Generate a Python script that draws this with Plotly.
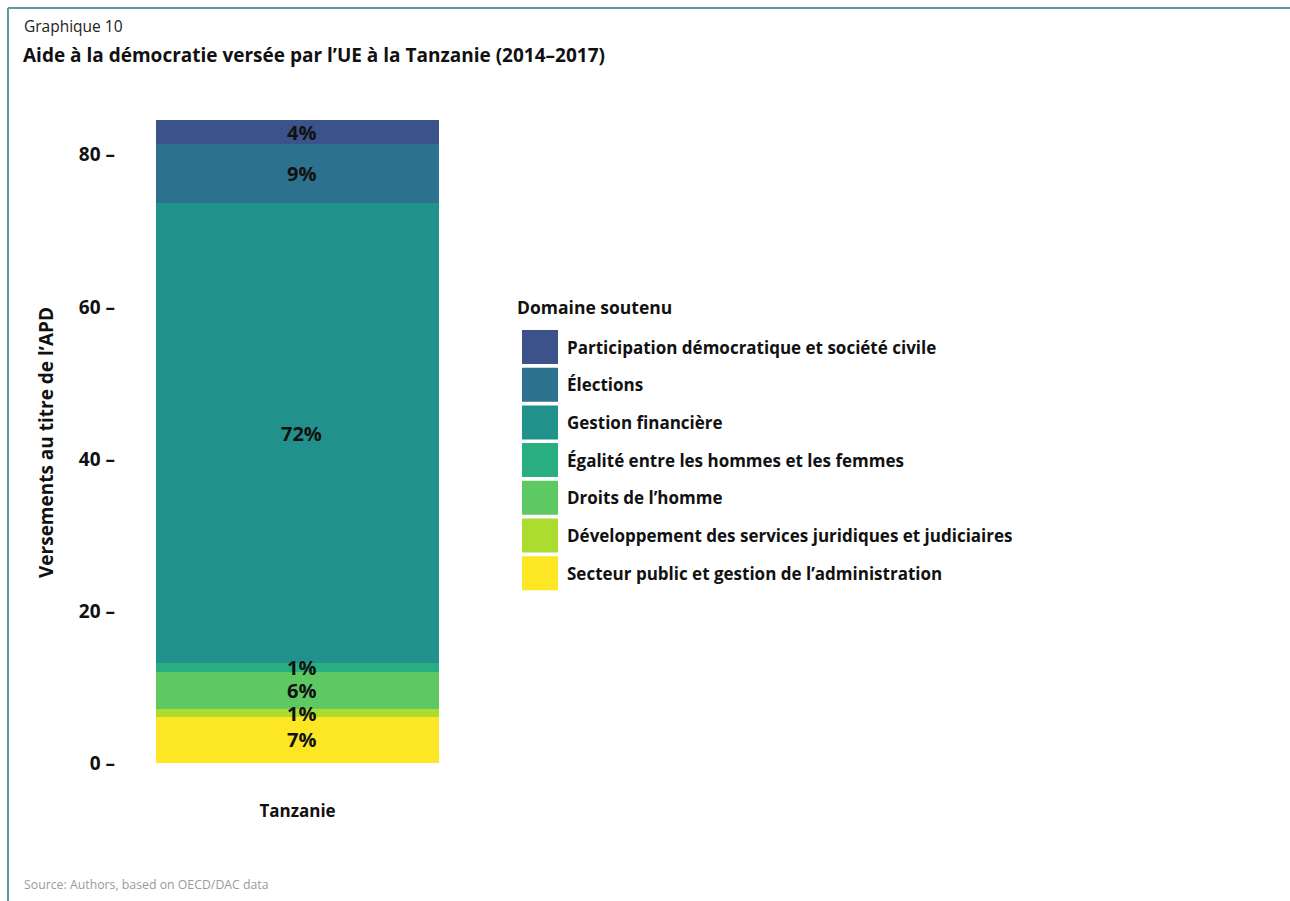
import plotly.graph_objects as go

# ---- data -------------------------------------------------------------
categories = ["Tanzanie"]
domains = [
    "Participation démocratique et société civile",
    "Élections",
    "Gestion financière",
    "Égalité entre les hommes et les femmes",
    "Droits de l’homme",
    "Développement des services juridiques et judiciaires",
    "Secteur public et gestion de l’administration",
]
values = [3.2, 7.7, 60.6, 1.15, 4.9, 0.95, 6.1]  # versements APD, en millions
colors = ["#3b528b", "#2c728e", "#21918c", "#28ae80", "#5ec962", "#addc30", "#fde725"]
y_ticks = [0, 20, 40, 60, 80]
y_tick_text = [f"{v} –" for v in y_ticks]

title_small = "Graphique 10"
title_main = "Aide à la démocratie versée par l’UE à la Tanzanie (2014–2017)"
y_title = "Versements au titre de l’APD"
legend_title = "Domaine soutenu"
source = "Source: Authors, based on OECD/DAC data"

# ---- page geometry ----------------------------------------------------
W, H = 1290, 901
ML, MR, MT, MB = 156, 851, 94, 138
PW = W - ML - MR
PH = H - MT - MB
FONT = "Open Sans"
FRAME = "#5e9a9e"


def px_x(x):
    return (x - ML) / PW


def px_y(y):
    return (H - MB - y) / PH


fig = go.Figure()

# stacked from the bottom segment upward
for name, val, col in reversed(list(zip(domains, values, colors))):
    fig.add_trace(go.Bar(
        x=categories, y=[val], name=name,
        marker=dict(color=col, line=dict(width=0)),
        width=1, showlegend=False, hoverinfo="name+y",
    ))

# share labels at the middle of each segment
total = sum(values)
annotations = []
base = 0.0
for name, val in reversed(list(zip(domains, values))):
    mid = base + val / 2
    base += val
    annotations.append(dict(
        x=categories[0], y=mid, xref="x", yref="y",
        text=f"{round(val / total * 100)}%", showarrow=False, xshift=4,
        font=dict(family=FONT, size=20, color="#111", weight="bold"),
    ))

# titles and source
annotations += [
    dict(x=px_x(22), y=px_y(26), xref="paper", yref="paper", text=title_small,
         showarrow=False, xanchor="left", yanchor="middle",
         font=dict(family=FONT, size=15.5, color="#222")),
    dict(x=px_x(21), y=px_y(55), xref="paper", yref="paper", text=title_main,
         showarrow=False, xanchor="left", yanchor="middle",
         font=dict(family=FONT, size=19, color="#111", weight="bold")),
    dict(x=px_x(46), y=px_y(443), xref="paper", yref="paper", text=y_title,
         showarrow=False, textangle=-90, xanchor="center", yanchor="middle",
         font=dict(family=FONT, size=19, color="#111", weight="bold")),
    dict(x=px_x(22), y=px_y(884), xref="paper", yref="paper", text=source,
         showarrow=False, xanchor="left", yanchor="middle",
         font=dict(family=FONT, size=12.3, color="#9a9a9a")),
    dict(x=px_x(515), y=px_y(307), xref="paper", yref="paper", text=legend_title,
         showarrow=False, xanchor="left", yanchor="middle",
         font=dict(family=FONT, size=17.5, color="#111", weight="bold")),
]

# legend built from swatches and labels
shapes = []
step = 37.7
for i, (name, col) in enumerate(zip(domains, colors)):
    top = 330 + i * step
    bot = top + 34
    shapes.append(dict(type="rect", xref="paper", yref="paper",
                       x0=px_x(522), x1=px_x(558), y0=px_y(bot), y1=px_y(top),
                       fillcolor=col, line=dict(width=0)))
    annotations.append(dict(
        x=px_x(565), y=px_y((top + bot) / 2), xref="paper", yref="paper",
        text=name, showarrow=False, xanchor="left", yanchor="middle",
        font=dict(family=FONT, size=17, color="#111", weight="bold"),
    ))

# frame lines (left and top)
shapes += [
    dict(type="line", xref="paper", yref="paper", x0=px_x(8), x1=px_x(8),
         y0=px_y(8), y1=px_y(H + 5), line=dict(color=FRAME, width=2)),
    dict(type="line", xref="paper", yref="paper", x0=px_x(8), x1=px_x(W + 5),
         y0=px_y(8), y1=px_y(8), line=dict(color=FRAME, width=2)),
]

fig.update_layout(
    width=W, height=H,
    margin=dict(l=ML, r=MR, t=MT, b=MB, pad=0),
    barmode="stack", bargap=0,
    paper_bgcolor="white", plot_bgcolor="white",
    font=dict(family=FONT, color="#111"),
    showlegend=False,
    annotations=annotations,
    shapes=shapes,
    xaxis=dict(range=[-0.5, 0.5], showgrid=False, zeroline=False, showline=False,
               ticks="", ticklabelstandoff=36,
               tickfont=dict(family=FONT, size=17, color="#111", weight="bold")),
    yaxis=dict(range=[0, 88], tickmode="array", tickvals=y_ticks, ticktext=y_tick_text,
               showgrid=False, zeroline=False, showline=False, ticks="",
               ticklabelstandoff=40,
               tickfont=dict(family=FONT, size=19, color="#111", weight="bold")),
)

fig.write_html("out.html")
